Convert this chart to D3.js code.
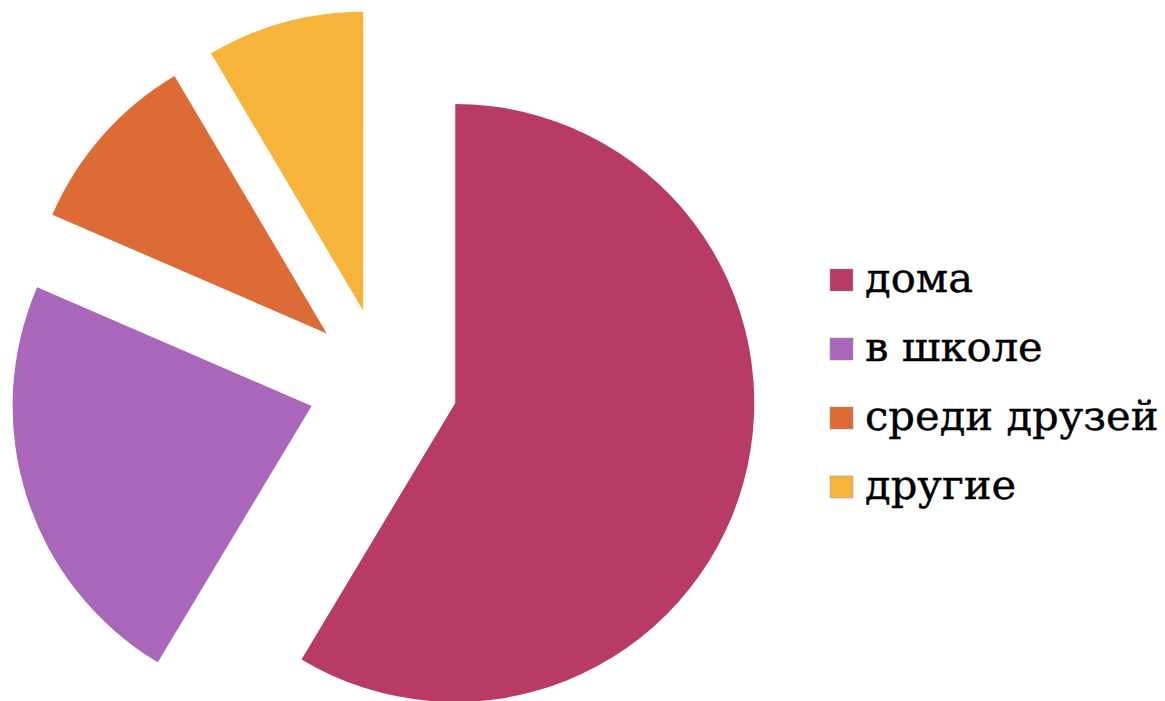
<!DOCTYPE html>
<html lang="ru">
<head>
<meta charset="utf-8" />
<title>pie</title>
<script src="https://cdn.jsdelivr.net/npm/d3@7"></script>
<style>
  body { margin: 0; background: #fff; }
</style>
</head>
<body>
<div id="chart"></div>
<script>
var width = 1165;
var height = 701;

// data
var categories = ["дома", "в школе", "среди друзей", "другие"];
var values = [58.6, 22.9, 10.0, 8.5];
var colors = ["#b83b67", "#a966ba", "#dc6b35", "#f6b43b"];

var cx = 383, cy = 383;
var radius = 299;
var explode = 75;

var svg = d3.select("#chart").append("svg")
    .attr("width", width)
    .attr("height", height);

var pie = d3.pie().sort(null).value(function(d) { return d; });
var arc = d3.arc().innerRadius(0).outerRadius(radius);

var g = svg.append("g").attr("transform", "translate(" + cx + "," + cy + ")");

g.selectAll("path")
    .data(pie(values))
    .enter().append("path")
    .attr("d", arc)
    .attr("fill", function(d, i) { return colors[i]; })
    .attr("transform", function(d) {
      var a = (d.startAngle + d.endAngle) / 2;
      return "translate(" + (Math.sin(a) * explode) + "," + (-Math.cos(a) * explode) + ")";
    });

// legend
var legend = svg.append("g").attr("transform", "translate(830,280)");
var rowH = 69;

var item = legend.selectAll("g")
    .data(categories)
    .enter().append("g")
    .attr("transform", function(d, i) { return "translate(0," + (i * rowH) + ")"; });

item.append("rect")
    .attr("x", 0).attr("y", -11)
    .attr("width", 23).attr("height", 22)
    .attr("fill", function(d, i) { return colors[i]; })
    .attr("stroke", "#999").attr("stroke-width", 0.5);

item.append("text")
    .attr("x", 35).attr("y", 12)
    .style("font-family", "'DejaVu Serif', serif")
    .style("font-size", "41.7px")
    .attr("fill", "#000")
    .attr("stroke", "#000").attr("stroke-width", 0.4)
    .text(function(d) { return d; });
</script>
</body>
</html>
